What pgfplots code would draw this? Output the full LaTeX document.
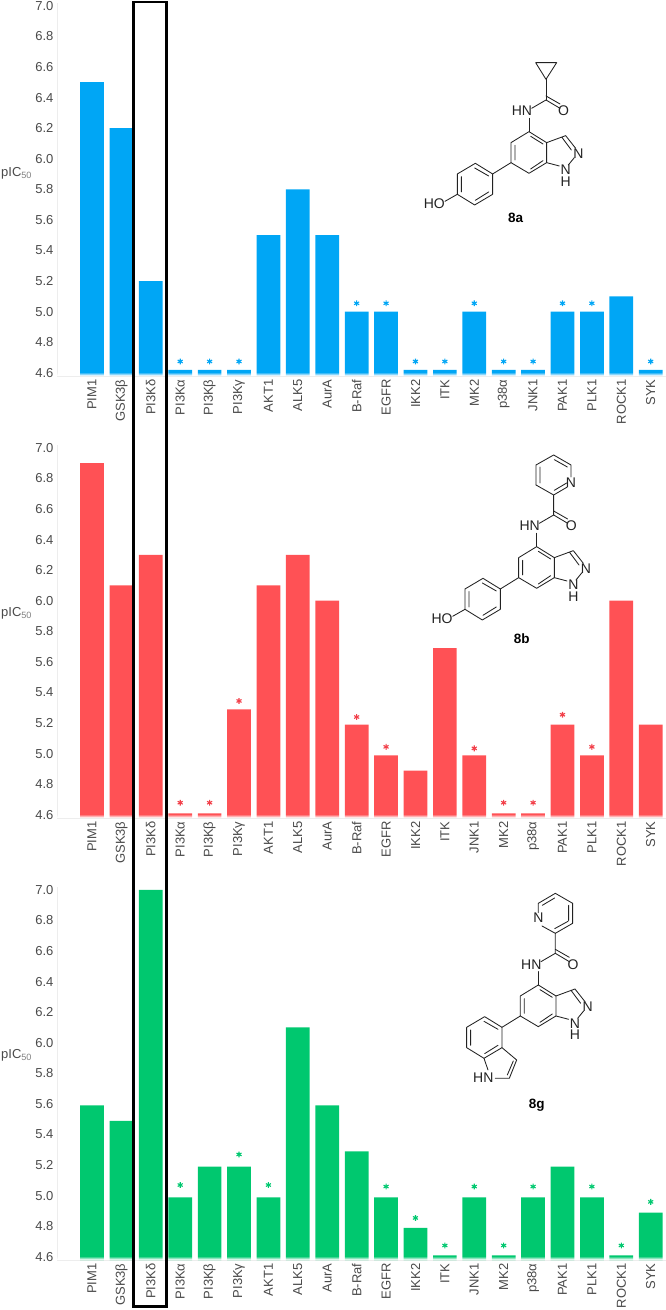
\documentclass[border=0pt]{standalone}
\usepackage{fontspec}
\setmainfont{Liberation Sans}
\usepackage{pgfplots}
\pgfplotsset{compat=1.18}
\definecolor{cblue}{HTML}{00A6F5}
\definecolor{cred}{HTML}{FF5155}
\definecolor{cgreen}{HTML}{00C86F}
\definecolor{sred}{HTML}{F2404A}
\definecolor{tickgray}{HTML}{4A4A4A}
\definecolor{molink}{HTML}{222222}

\newcommand{\sz}[1]{\fontsize{#1}{#1}\selectfont}

% one panel: 1 px of the reference is 1pt here
\pgfplotsset{
 panel/.style={
   scale only axis,width=609pt,height=373.3pt,
   anchor=south west,
   xmin=-1.19,xmax=19.52,ymin=4.58,ymax=7.02,
   axis x line=bottom,axis y line=left,
   axis line style={draw=black!7,-},
   major tick length=0pt,
   xtick={0,...,19},
   ytick={4.6,4.8,5.0,5.2,5.4,5.6,5.8,6.0,6.2,6.4,6.6,6.8,7.0},
   yticklabel style={font=\sz{13},text=tickgray,
     /pgf/number format/fixed,/pgf/number format/fixed zerofill,
     /pgf/number format/precision=1,/pgf/number format/assume math mode=true},
   xticklabel style={font=\sz{13},text=tickgray,rotate=90,anchor=east},
 },
 bars/.style={ybar,bar width=23.7pt,bar shift=0pt,draw=none,fill=#1},
 stars/.style={only marks,mark=asterisk,mark size=2.9pt,line width=1.1pt,color=#1},
}

% white stripes that fade the feet of the bars
\newcommand{\basefade}{%
 \fill[white,opacity=0.25] (axis cs:-1.19,4.6) rectangle (axis cs:19.52,4.5935);
 \fill[white,opacity=0.55] (axis cs:-1.19,4.5935) rectangle (axis cs:19.52,4.587);
 \fill[white,opacity=0.85] (axis cs:-1.19,4.587) rectangle (axis cs:19.52,4.58);
}

% parts of the molecules, in units of a 3x crop
\tikzset{bond/.style={draw=molink,line width=0.85pt,line cap=round,line join=round},
 atom/.style={font=\sz{14},text=molink,inner sep=0pt}}
\newcommand{\core}{%
 \draw[bond] (387,235)--(387,275);
 \draw[bond] (387,275)--(333,308)--(333,368)--(387,400)--(440,368)--(440,308)--cycle;
 \draw[bond] (345,316)--(345,360) (392,289)--(429,312) (392,387)--(429,362);
 \draw[bond] (440,308)--(497,287)--(527,325) (485,291)--(514,330);
 \draw[bond] (523,353)--(505,375) (478,378)--(440,368);
 \draw[bond] (333,368)--(278,402);
 \draw[bond] (395,205)--(438,180)--(480,205) (438,168)--(480,192);
 \node[atom] at (366,213) {HN};
 \node[atom] at (491,213) {O};
 \node[atom] at (535,340) {N};
 \node[atom] at (497,390) {N};
 \node[atom] at (497,425) {H};
}
\newcommand{\phenol}{%
 \draw[bond] (278,402)--(226,370)--(172,402)--(172,463)--(224,495)--(278,463)--cycle;
 \draw[bond] (224,384)--(266,408) (184,410)--(184,456) (226,481)--(266,456);
 \draw[bond] (172,463)--(135,484);
 \node[atom] at (103,492) {HO};
}

\begin{document}
\begin{tikzpicture}
\path[use as bounding box] (0pt,0pt) rectangle (666pt,1310pt);

% 8a
\begin{axis}[panel,at={(57pt,934pt)},
 xticklabels={PIM1,GSK3β,PI3Kδ,PI3Kα,PI3Kβ,PI3Kγ,AKT1,ALK5,AurA,B-Raf,EGFR,IKK2,ITK,MK2,p38α,JNK1,PAK1,PLK1,ROCK1,SYK}]
\addplot[bars=cblue] coordinates {
 (0,6.5) (1,6.2) (2,5.2) (3,4.62) (4,4.62) (5,4.62) (6,5.5) (7,5.8) (8,5.5) (9,5.0)
 (10,5.0) (11,4.62) (12,4.62) (13,5.0) (14,4.62) (15,4.62) (16,5.0) (17,5.0) (18,5.1) (19,4.62)};
\addplot[stars=cblue] coordinates {
 (3,4.675) (4,4.675) (5,4.675) (9,5.055) (10,5.055) (11,4.675) (12,4.675) (13,5.055)
 (14,4.675) (15,4.675) (16,5.055) (17,5.055) (19,4.675)};
\basefade
\end{axis}

% 8b
\begin{axis}[panel,at={(57pt,492pt)},
 xticklabels={PIM1,GSK3β,PI3Kδ,PI3Kα,PI3Kβ,PI3Kγ,AKT1,ALK5,AurA,B-Raf,EGFR,IKK2,ITK,JNK1,MK2,p38α,PAK1,PLK1,ROCK1,SYK}]
\addplot[bars=cred] coordinates {
 (0,6.9) (1,6.1) (2,6.3) (3,4.61) (4,4.61) (5,5.29) (6,6.1) (7,6.3) (8,6.0) (9,5.19)
 (10,4.99) (11,4.89) (12,5.69) (13,4.99) (14,4.61) (15,4.61) (16,5.19) (17,4.99) (18,6.0) (19,5.19)};
\addplot[stars=sred] coordinates {
 (3,4.68) (4,4.68) (5,5.345) (9,5.24) (10,5.045) (13,5.035) (14,4.68) (15,4.68) (16,5.255) (17,5.045)};
\basefade
\end{axis}

% 8g
\begin{axis}[panel,at={(57pt,50pt)},
 xticklabels={PIM1,GSK3β,PI3Kδ,PI3Kα,PI3Kβ,PI3Kγ,AKT1,ALK5,AurA,B-Raf,EGFR,IKK2,ITK,JNK1,MK2,p38α,PAK1,PLK1,ROCK1,SYK}]
\addplot[bars=cgreen] coordinates {
 (0,5.59) (1,5.49) (2,7.0) (3,4.99) (4,5.19) (5,5.19) (6,4.99) (7,6.1) (8,5.59) (9,5.29)
 (10,4.99) (11,4.79) (12,4.61) (13,4.99) (14,4.61) (15,4.99) (16,5.19) (17,4.99) (18,4.61) (19,4.89)};
\addplot[stars=cgreen] coordinates {
 (3,5.07) (5,5.27) (6,5.07) (10,5.06) (11,4.855) (12,4.675) (13,5.06) (14,4.675)
 (15,5.06) (17,5.06) (18,4.675) (19,4.96)};
\basefade
\end{axis}

% y axis names
\node[anchor=west,inner sep=0pt,font=\sz{13},text=tickgray] at (1pt,1137pt) {pIC\textsubscript{\textcolor{gray}{50}}};
\node[anchor=west,inner sep=0pt,font=\sz{13},text=tickgray] at (1pt,697pt) {pIC\textsubscript{\textcolor{gray}{50}}};
\node[anchor=west,inner sep=0pt,font=\sz{13},text=tickgray] at (1pt,255pt) {pIC\textsubscript{\textcolor{gray}{50}}};

% box round the PI3Kd column
\draw[black,line width=2.6pt] (133.5pt,1308pt) rectangle (166.5pt,3.5pt);

% molecule 8a
\begin{scope}[shift={(400pt,1270pt)},x=0.3333pt,y=-0.3333pt]
 \core \phenol
 \draw[bond] (438,180)--(438,118);
 \draw[bond] (438,118)--(407,68)--(470,68)--cycle;
 \node[font=\bfseries\sz{13.5},inner sep=0pt] at (347,535) {8a};
\end{scope}

% molecule 8b
\begin{scope}[shift={(407.67pt,855pt)},x=0.3333pt,y=-0.3333pt]
 \core \phenol
 \draw[bond] (438,180)--(438,120)--(479,96) (385,90)--(438,120);
 \draw[bond] (385,90)--(385,30)--(438,0)--(490,30)--(490,66);
 \draw[bond] (397,84)--(397,36) (440,14)--(479,36) (440,106)--(477,84);
 \node[atom] at (490,84) {N};
 \node[font=\bfseries\sz{13.5},inner sep=0pt] at (342,550) {8b};
\end{scope}

% molecule 8g
\begin{scope}[shift={(409.33pt,416.67pt)},x=0.3333pt,y=-0.3333pt]
 \core
 \draw[bond] (438,180)--(438,120)--(490,90)--(490,30)--(438,0)--(387,30)--(387,58);
 \draw[bond] (438,120)--(398,98);
 \draw[bond] (436,106)--(476,84) (478,82)--(478,36) (436,14)--(399,36);
 \node[atom] at (387,72) {N};
 \draw[bond] (278,402)--(226,370)--(172,402)--(172,463)--(224,495)--(278,463)--cycle;
 \draw[bond] (224,384)--(266,408) (184,410)--(184,456) (226,481)--(266,456);
 \draw[bond] (278,463)--(322,500)--(300,555)--(258,555) (224,495)--(236,530) (312,503)--(294,545);
 \node[atom] at (222,553) {HN};
 \node[font=\bfseries\sz{13.5},inner sep=0pt] at (382,635) {8g};
\end{scope}
\end{tikzpicture}
\end{document}
